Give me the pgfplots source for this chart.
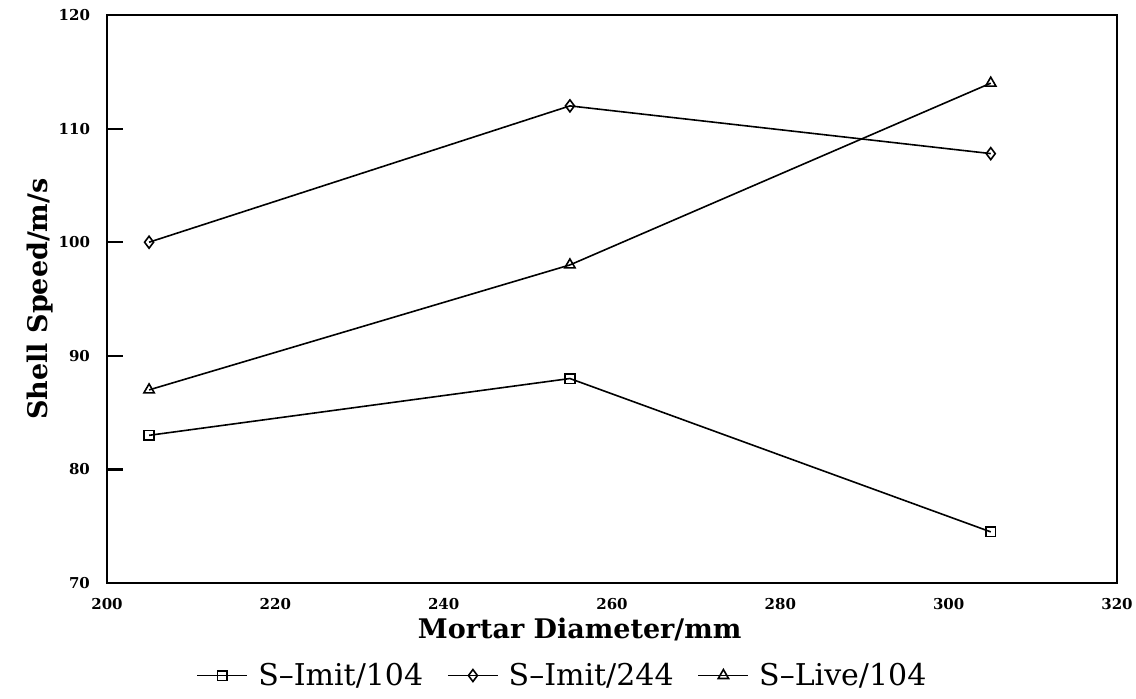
\documentclass[border=0pt]{standalone}
\usepackage{fontspec}
\setmainfont{DejaVu Serif}
\usepackage{pgfplots}
\pgfplotsset{compat=1.18}
\begin{document}
\begin{tikzpicture}
\useasboundingbox (-53.5pt,-57.5pt) rectangle (514.5pt,291.5pt);
\begin{axis}[
  scale only axis,
  width=505pt, height=284pt,
  xmin=200, xmax=320, ymin=70, ymax=120,
  xtick={200,220,...,320}, ytick={70,80,...,120},
  tick align=inside, xtick pos=bottom, ytick pos=left,
  major tick length=8pt,
  xtick style={draw=none},
  axis line style={line width=1.3pt},
  tick style={line width=1.1pt, black},
  /pgf/number format/assume math mode=true,
  ticklabel style={font=\fontsize{7.5}{9}\selectfont\bfseries},
  xticklabel style={yshift=-4pt},
  yticklabel style={xshift=-5pt},
  xlabel={Mortar Diameter/mm},
  ylabel={Shell Speed/m/s},
  xlabel style={font=\fontsize{13.5}{16}\selectfont\bfseries, at={(axis description cs:0.468,0)}, anchor=north, yshift=-14pt},
  ylabel style={font=\fontsize{13.5}{16}\selectfont\bfseries, yshift=-4pt},
  legend style={draw=none, fill=none, at={(axis description cs:0.452,-0.127)}, anchor=north, font=\fontsize{15}{17}\selectfont, column sep=3pt, inner sep=0pt, /tikz/every even column/.append style={column sep=10pt}},
  legend columns=3,
  legend image code/.code={\path[draw=none,fill=none] (0pt,-3pt) rectangle (25pt,10pt); \draw[#1] (0pt,0pt) -- (25pt,0pt); \draw[#1, only marks] plot coordinates {(12.5pt,0pt)};},
  every axis plot/.append style={black, line width=0.8pt, mark options={solid, fill=white, line width=0.8pt}},
]
\addplot[mark=square, mark size=2.4pt] coordinates {(205,83) (255,88) (305,74.5)};
\addlegendentry{S--Imit/104}
\addplot[mark=diamond, mark size=3pt] coordinates {(205,100) (255,112) (305,107.8)};
\addlegendentry{S--Imit/244}
\addplot[mark=triangle, mark size=3pt] coordinates {(205,87) (255,98) (305,114)};
\addlegendentry{S--Live/104}
\end{axis}
\end{tikzpicture}
\end{document}
